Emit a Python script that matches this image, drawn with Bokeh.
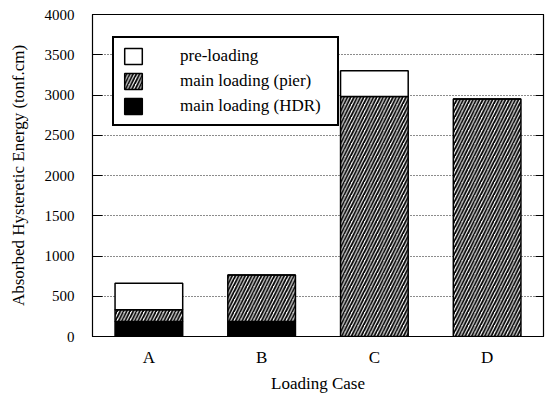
from bokeh.plotting import figure
from bokeh.models import (FactorRange, Range1d, LinearAxis, FixedTicker, Legend, LegendItem)
from bokeh.embed import file_html
from bokeh.resources import INLINE

# ---- data ----
cases = ["A", "B", "C", "D"]
hdr = [186, 186, 0, 0]          # main loading (HDR)
pier = [146, 577, 2980, 2950]   # main loading (pier)
pre = [331, 0, 320, 0]          # pre-loading
y_ticks = [0, 500, 1000, 1500, 2000, 2500, 3000, 3500, 4000]
grid_ticks = [500, 1000, 1500, 2000, 2500, 3000, 3500]

FONT = "Liberation Serif"

p = figure(x_range=FactorRange(*cases), y_range=Range1d(0, 4000),
           width=545, height=395, output_backend="svg", toolbar_location=None,
           min_border_left=92, min_border_right=2, min_border_top=14, min_border_bottom=58)
p.x_range.range_padding = 0

data = dict(cases=cases, hdr=hdr, pier=pier, pre=pre)
rs = p.vbar_stack(["hdr", "pier", "pre"], x="cases", width=0.6, source=data,
                  fill_color=["black", "white", "white"],
                  line_color="black", line_width=1.5,
                  hatch_pattern=[" ", "/", " "], hatch_color="black",
                  hatch_scale=6.5, hatch_weight=1.8)

# axes
p.xaxis.axis_label = "Loading Case"
p.yaxis.axis_label = "Absorbed Hysteretic Energy (tonf.cm)"
for ax in (p.xaxis[0], p.yaxis[0]):
    ax.axis_label_text_font = FONT
    ax.axis_label_text_font_size = "17px"
    ax.axis_label_text_font_style = "normal"
    ax.major_label_text_font = FONT
    ax.axis_line_color = "black"
    ax.minor_tick_line_color = None
    ax.major_label_text_color = "black"
    ax.axis_label_text_color = "black"

p.xaxis.major_label_text_font_size = "17px"
p.xaxis.major_tick_in = 0
p.xaxis.major_tick_out = 0
p.xaxis.major_label_standoff = 11
p.xaxis.axis_label_standoff = 4

p.yaxis.ticker = FixedTicker(ticks=y_ticks)
p.yaxis.major_label_text_font_size = "15px"
p.yaxis.major_tick_in = 10
p.yaxis.major_tick_out = 0
p.yaxis.major_tick_line_color = "black"
p.yaxis.major_label_standoff = 18
p.yaxis.axis_label_standoff = 14

right = LinearAxis(ticker=FixedTicker(ticks=y_ticks), major_tick_in=8, major_tick_out=0,
                   major_label_overrides={t: "" for t in y_ticks}, major_label_standoff=0,
                   minor_tick_line_color=None, axis_line_color="black",
                   major_tick_line_color="black")
p.add_layout(right, "right")

# grid
p.xgrid.grid_line_color = None
p.ygrid.ticker = FixedTicker(ticks=grid_ticks)
p.ygrid.grid_line_color = "black"
p.ygrid.grid_line_dash = "1 2"
p.ygrid.grid_line_width = 1
p.ygrid.grid_line_alpha = 0.9

p.outline_line_color = "black"
p.outline_line_width = 1.2
p.background_fill_color = "white"
p.border_fill_color = "white"

legend = Legend(items=[
    LegendItem(label="pre-loading", renderers=[rs[2]]),
    LegendItem(label="main loading (pier)", renderers=[rs[1]]),
    LegendItem(label="main loading (HDR)", renderers=[rs[0]]),
], location=(20, 210))
legend.label_text_font = FONT
legend.label_text_font_size = "17px"
legend.label_text_color = "black"
legend.glyph_width = 22
legend.glyph_height = 20
legend.label_standoff = 36
legend.label_width = 149
legend.padding = 8
legend.spacing = 5
legend.border_line_color = "black"
legend.border_line_alpha = 1.0
legend.border_line_width = 2
legend.background_fill_alpha = 1
legend.margin = 0
p.add_layout(legend, "center")

open("out.html", "w").write(file_html(p, INLINE))
